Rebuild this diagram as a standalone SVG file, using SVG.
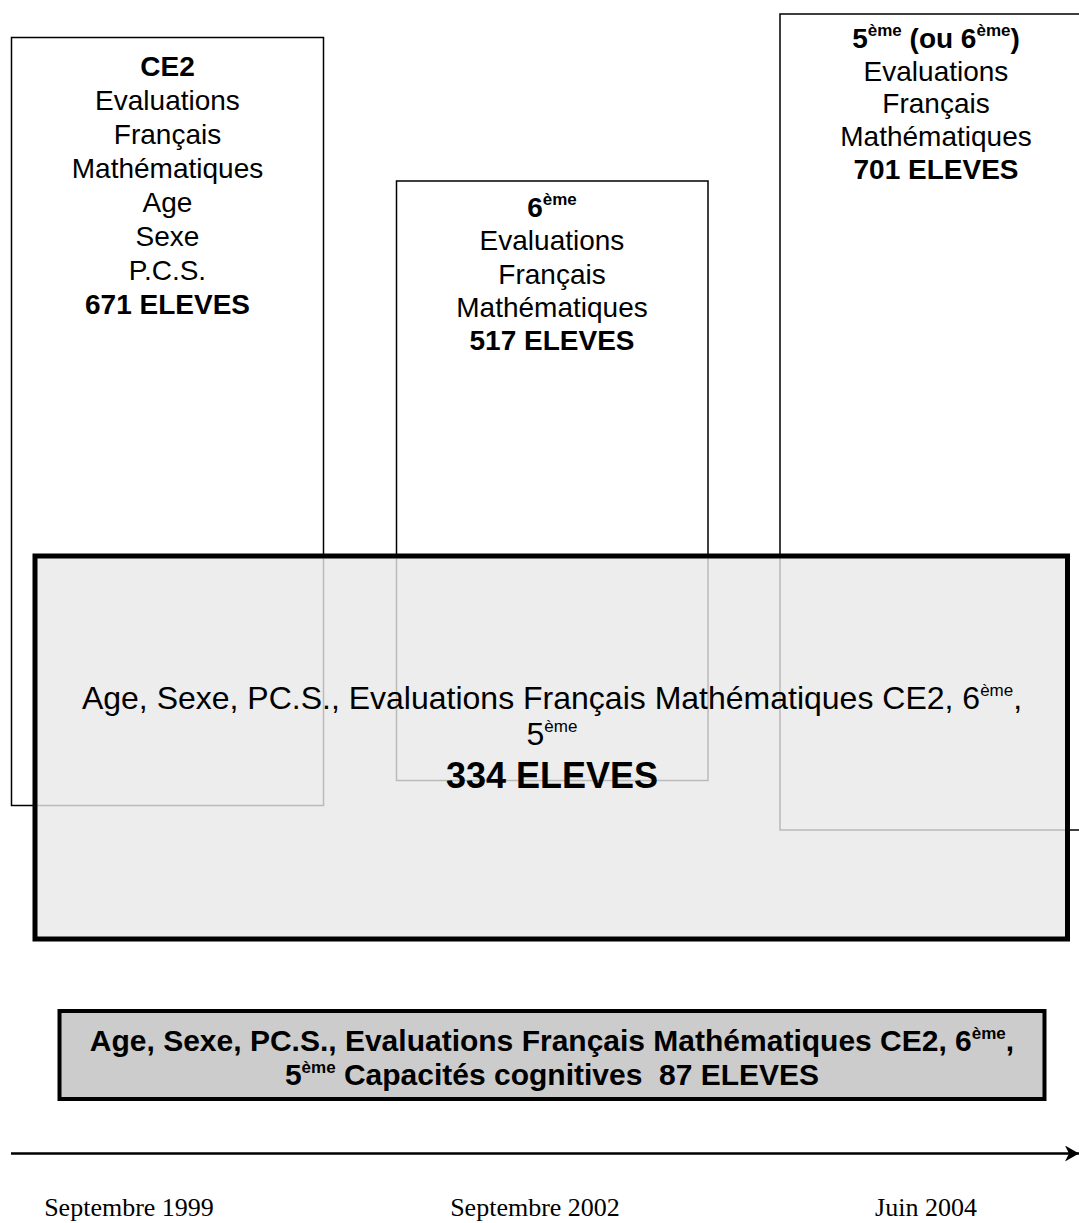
<svg xmlns="http://www.w3.org/2000/svg" width="1079" height="1223" viewBox="0 0 1079 1223">
  <style>
    .frame { fill: none; stroke: #000; stroke-width: 1.5; }
    .t { font-family: "Liberation Sans", Arial, sans-serif; font-size: 28px; fill: #000; text-anchor: middle; }
    .b { font-weight: bold; }
    .sup { font-size: 17px; }
    .big { font-size: 32px; }
    .huge { font-size: 36px; font-weight: bold; }
    .low { font-size: 30px; font-weight: bold; }
    .date { font-family: "Liberation Serif", "Times New Roman", serif; font-size: 26px; fill: #000; text-anchor: middle; }
  </style>
  <defs>
    <marker id="arrowhead" viewBox="0 0 14 16" refX="14" refY="8" markerWidth="14" markerHeight="16" markerUnits="userSpaceOnUse" orient="auto">
      <path d="M0,0 L14,8 L0,16 L4,8 Z" fill="#000"/>
    </marker>
  </defs>

  <rect width="1079" height="1223" fill="#fff"/>

  <!-- Survey waves -->
  <g id="node-ce2">
    <rect class="frame" x="11.5" y="37.5" width="312" height="768"/>
    <text class="t b" x="167.5" y="76">CE2</text>
    <text class="t" x="167.5" y="110">Evaluations</text>
    <text class="t" x="167.5" y="144">Français</text>
    <text class="t" x="167.5" y="178">Mathématiques</text>
    <text class="t" x="167.5" y="212">Age</text>
    <text class="t" x="167.5" y="246">Sexe</text>
    <text class="t" x="167.5" y="280">P.C.S.</text>
    <text class="t b" x="167.5" y="314">671 ELEVES</text>
  </g>

  <g id="node-6eme">
    <rect class="frame" x="396.5" y="181" width="311.5" height="599.5"/>
    <text class="t b" x="552" y="217">6<tspan class="sup" dy="-12">ème</tspan></text>
    <text class="t" x="552" y="250">Evaluations</text>
    <text class="t" x="552" y="284">Français</text>
    <text class="t" x="552" y="317">Mathématiques</text>
    <text class="t b" x="552" y="350">517 ELEVES</text>
  </g>

  <g id="node-5eme">
    <rect class="frame" x="780" y="14" width="316" height="816"/>
    <text class="t b" x="936" y="48">5<tspan class="sup" dy="-12">ème</tspan><tspan dy="12"> (ou 6</tspan><tspan class="sup" dy="-12">ème</tspan><tspan dy="12">)</tspan></text>
    <text class="t" x="936" y="81">Evaluations</text>
    <text class="t" x="936" y="113">Français</text>
    <text class="t" x="936" y="146">Mathématiques</text>
    <text class="t b" x="936" y="179">701 ELEVES</text>
  </g>

  <!-- Longitudinal sample, drawn over the waves -->
  <g id="node-334">
    <rect x="35" y="556" width="1032.5" height="383" fill="#e9e9e9" fill-opacity="0.8" stroke="#000" stroke-width="5"/>
    <text class="t big" x="552" y="709">Age, Sexe, PC.S., Evaluations Français Mathématiques CE2, 6<tspan class="sup" font-size="19" dy="-13">ème</tspan><tspan dy="13">,</tspan></text>
    <text class="t big" x="552" y="745">5<tspan class="sup" font-size="19" dy="-13">ème</tspan></text>
    <text class="t huge" x="552" y="788">334 ELEVES</text>
  </g>

  <g id="node-87">
    <rect x="59.5" y="1011" width="985" height="88" fill="#cccccc" stroke="#000" stroke-width="4"/>
    <text class="t low" x="552" y="1051">Age, Sexe, PC.S., Evaluations Français Mathématiques CE2, 6<tspan class="sup" font-size="18" dy="-12">ème</tspan><tspan dy="12">,</tspan></text>
    <text class="t low" x="552" y="1085">5<tspan class="sup" font-size="18" dy="-12">ème</tspan><tspan dy="12"> Capacités cognitives &#160;87 ELEVES</tspan></text>
  </g>

  <!-- Time axis -->
  <g id="connectors">
    <line x1="11" y1="1153.5" x2="1079" y2="1153.5" stroke="#000" stroke-width="2.5" marker-end="url(#arrowhead)"/>
  </g>

  <g id="dates">
    <text class="date" x="129" y="1216">Septembre 1999</text>
    <text class="date" x="535" y="1216">Septembre 2002</text>
    <text class="date" x="926" y="1216">Juin 2004</text>
  </g>
</svg>
